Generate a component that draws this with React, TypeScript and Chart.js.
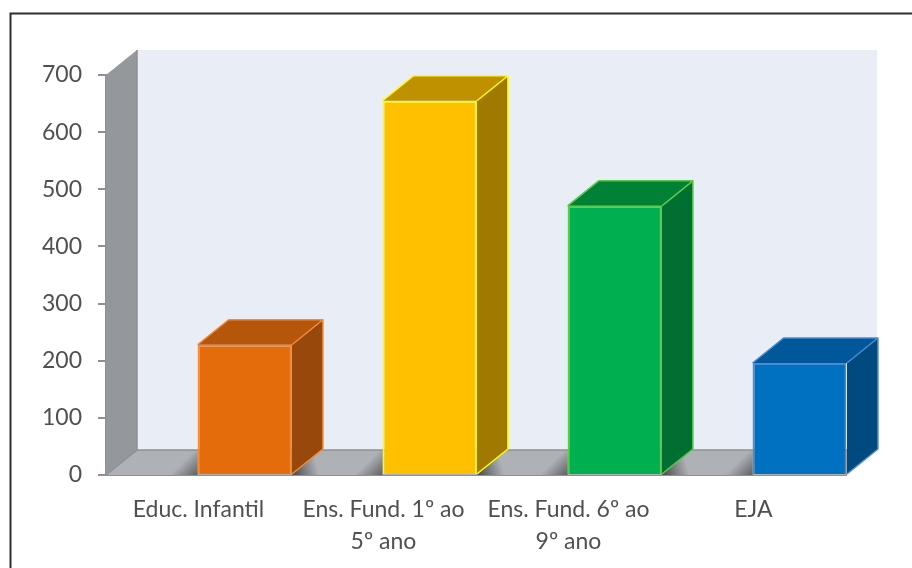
import React, { useEffect, useRef } from "react";
import { Chart, registerables } from "chart.js";

Chart.register(...registerables);

const categories: (string | string[])[] = [
  "Educ. Infantil",
  ["Ens. Fund. 1º ao", "5º ano"],
  ["Ens. Fund. 6º ao", "9º ano"],
  "EJA",
];
const matriculas = [228, 655, 471, 196];
const emptySeries = [null, null, null, null];

const frontColors = ["#E46C0A", "#FFC000", "#00B050", "#0070C0"];
const edgeColors = ["#F28A3C", "#FFFF00", "#5CC84E", "#4A8AD4"];
const sideColors = ["#97480A", "#A07A00", "#006F31", "#004A80"];
const topColors = ["#B6560B", "#BF9000", "#008136", "#00589B"];

const DEPTH_X = 31;
const DEPTH_Y = 25;
const TEXT = "#505050";
const AXIS = "#8E9094";

function poly(ctx: CanvasRenderingContext2D, pts: number[][], fill: string | CanvasGradient) {
  ctx.beginPath();
  pts.forEach(([x, y], i) => (i ? ctx.lineTo(x, y) : ctx.moveTo(x, y)));
  ctx.closePath();
  ctx.fillStyle = fill;
  ctx.fill();
}

// Frame around the figure, open at the window's right and bottom edges.
const framePlugin = {
  id: "frame",
  beforeDraw(chart: any) {
    const { ctx, width, height } = chart;
    ctx.save();
    ctx.fillStyle = "#FFFFFF";
    ctx.fillRect(0, 0, width, height);
    ctx.strokeStyle = "#2E2E2E";
    ctx.lineWidth = 2;
    ctx.beginPath();
    ctx.moveTo(10.5, height);
    ctx.lineTo(10.5, 13.5);
    ctx.lineTo(width, 13.5);
    ctx.stroke();
    ctx.restore();
  },
};

// Back wall, side wall and floor of the box behind the bars.
const wallsPlugin = {
  id: "walls",
  beforeDatasetsDraw(chart: any) {
    const { ctx, chartArea: a } = chart;
    const dx = DEPTH_X;
    const dy = DEPTH_Y;
    ctx.save();
    poly(ctx, [[a.left + dx, a.top - dy], [a.right + dx, a.top - dy], [a.right + dx, a.bottom - dy], [a.left + dx, a.bottom - dy]], "#E9EDF5");
    poly(ctx, [[a.left, a.top], [a.left + dx, a.top - dy], [a.left + dx, a.bottom - dy], [a.left, a.bottom]], "#94979C");
    const floor = [[a.left, a.bottom], [a.left + dx, a.bottom - dy], [a.right + dx, a.bottom - dy], [a.right, a.bottom]];
    poly(ctx, floor, "#AEB1B5");

    // Soft shadows the bars throw on the floor.
    ctx.beginPath();
    floor.forEach(([x, y], i) => (i ? ctx.lineTo(x, y) : ctx.moveTo(x, y)));
    ctx.closePath();
    ctx.clip();
    chart.getDatasetMeta(1).data.forEach((bar: any) => {
      const left = bar.x - bar.width / 2;
      const right = bar.x + bar.width / 2;
      const before = ctx.createLinearGradient(left - 14, a.bottom - 14, left, a.bottom);
      before.addColorStop(0, "rgba(70,70,74,0)");
      before.addColorStop(1, "rgba(70,70,74,0.75)");
      ctx.fillStyle = before;
      ctx.fillRect(left - 30, a.bottom - dy, 30, dy);
      const after = ctx.createLinearGradient(right + 4, a.bottom, right + 26, a.bottom - 6);
      after.addColorStop(0, "rgba(70,70,74,0.85)");
      after.addColorStop(1, "rgba(70,70,74,0)");
      ctx.fillStyle = after;
      ctx.fillRect(right, a.bottom - dy, 60, dy);
    });
    ctx.restore();

    ctx.save();
    ctx.strokeStyle = AXIS;
    ctx.lineWidth = 1.5;
    ctx.beginPath();
    ctx.moveTo(a.left + dx, a.top - dy);
    ctx.lineTo(a.left + dx, a.bottom - dy);
    ctx.lineTo(a.right + dx, a.bottom - dy);
    ctx.moveTo(a.left + dx, a.bottom - dy);
    ctx.lineTo(a.left, a.bottom);
    ctx.stroke();
    ctx.restore();
  },
};

// Top and side faces extruded from each bar's front rectangle.
const barDepthPlugin = {
  id: "barDepth",
  afterDatasetsDraw(chart: any) {
    const { ctx } = chart;
    const dx = DEPTH_X;
    const dy = DEPTH_Y;
    chart.getDatasetMeta(1).data.forEach((bar: any, i: number) => {
      const l = bar.x - bar.width / 2;
      const r = bar.x + bar.width / 2;
      const t = bar.y;
      const b = bar.base;
      ctx.save();
      poly(ctx, [[r, t], [r + dx, t - dy], [r + dx, b - dy], [r, b]], sideColors[i]);
      poly(ctx, [[l, t], [l + dx, t - dy], [r + dx, t - dy], [r, t]], topColors[i]);
      ctx.strokeStyle = edgeColors[i];
      ctx.lineWidth = 1.5;
      ctx.lineJoin = "round";
      ctx.beginPath();
      ctx.moveTo(l, t);
      ctx.lineTo(l + dx, t - dy);
      ctx.lineTo(r + dx, t - dy);
      ctx.lineTo(r + dx, b - dy);
      ctx.lineTo(r, b);
      ctx.moveTo(r, t);
      ctx.lineTo(r + dx, t - dy);
      ctx.stroke();
      ctx.restore();
    });
  },
};

export default function App() {
  const ref = useRef<HTMLCanvasElement | null>(null);

  useEffect(() => {
    if (!ref.current) return;
    const chart = new Chart(ref.current, {
      type: "bar",
      data: {
        labels: categories as any,
        datasets: [
          { label: "", data: emptySeries as any },
          {
            label: "Matrículas",
            data: matriculas,
            backgroundColor: frontColors,
            borderColor: edgeColors,
            borderWidth: 2,
          },
        ],
      },
      options: {
        responsive: false,
        animation: false,
        layout: { padding: { top: 75, right: 66, left: 0, bottom: 0 } },
        plugins: { legend: { display: false }, tooltip: { enabled: false }, title: { display: false } },
        datasets: { bar: { categoryPercentage: 1, barPercentage: 1.02 } },
        scales: {
          x: {
            offset: true,
            afterFit(scale: any) {
              scale.height = 93;
            },
            grid: { display: false, drawTicks: false },
            border: { display: true, color: AXIS, width: 2 },
            ticks: {
              maxRotation: 0,
              minRotation: 0,
              autoSkip: false,
              padding: 19,
              color: TEXT,
              font: { family: "Lato", size: 23, lineHeight: 1.38 },
            },
          },
          y: {
            min: 0,
            max: 700,
            afterFit(scale: any) {
              scale.width = 106;
            },
            grid: { drawOnChartArea: false, drawTicks: true, tickLength: 8, color: AXIS, lineWidth: 2 },
            border: { display: true, color: AXIS, width: 2 },
            ticks: {
              stepSize: 100,
              padding: 16,
              color: TEXT,
              font: { family: "Lato", size: 23 },
            },
          },
        },
      } as any,
      plugins: [framePlugin, wallsPlugin, barDepthPlugin] as any,
    });
    return () => chart.destroy();
  }, []);

  return (
    <div style={{ position: "absolute", left: 0, top: 0, width: 912, height: 568, overflow: "hidden" }}>
      <canvas ref={ref} width={912} height={568} style={{ display: "block" }} />
    </div>
  );
}
